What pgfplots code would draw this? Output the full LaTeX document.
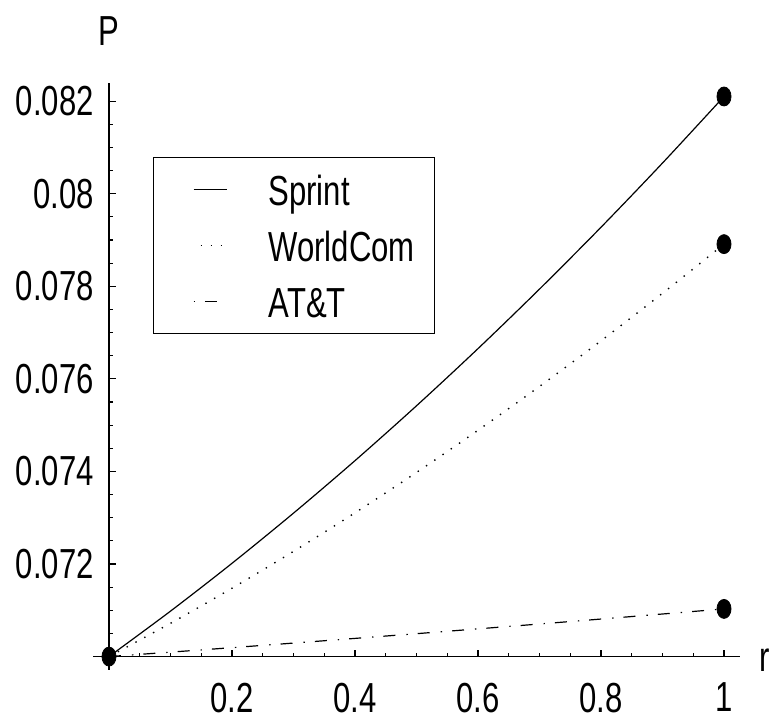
\documentclass[border=0pt]{standalone}
\usepackage{fontspec}
\setmainfont{Liberation Sans}[FakeStretch=0.74]
\usepackage{pgfplots}
\pgfplotsset{compat=1.18}
\begin{document}
\fontsize{21}{25}\selectfont
\begin{tikzpicture}[font=\fontsize{21}{25}\selectfont]
\path[use as bounding box] (0,0) rectangle (386.5pt,363pt);
\begin{axis}[
  at={(54.5pt,34.7pt)}, anchor=south west,
  scale only axis, width=315.5pt, height=287pt,
  xmin=0, xmax=1.026, ymin=0.07, ymax=0.0824,
  axis lines*=left,
  axis line style={line width=0.7pt, black},
  x axis line style={shorten <=-8pt},
  y axis line style={shorten <=-6.5pt},
  clip=false,
  scaled x ticks=false, scaled y ticks=false,
  tick align=inside,
  major tick length=3.5pt, minor tick length=2pt,
  every tick/.style={line width=0.6pt, black},
  /pgf/number format/assume math mode=true,
  xtick={0.2,0.4,0.6,0.8,1},
  xticklabels={0.2,0.4,0.6,0.8,1},
  minor xtick={0.05,0.1,0.15,0.25,0.3,0.35,0.45,0.5,0.55,0.65,0.7,0.75,0.85,0.9,0.95},
  ytick={0.072,0.074,0.076,0.078,0.08,0.082},
  yticklabels={0.072,0.074,0.076,0.078,0.08,0.082},
  minor ytick={0.0705,0.071,0.0715,0.0725,0.073,0.0735,0.0745,0.075,0.0755,0.0765,0.077,0.0775,0.0785,0.079,0.0795,0.0805,0.081,0.0815},
  xticklabel style={anchor=north, inner sep=0pt, yshift=-13pt},
  yticklabel style={anchor=east, inner sep=0pt, xshift=-7.5pt},
  legend cell align=left,
  legend image code/.code={\path[draw=none] (-20pt,0pt) -- (37.5pt,0pt); \draw[#1, dash phase=11.5pt] (0pt,0pt) -- (16.5pt,0pt);},
  legend style={at={(axis description cs:0.0697,0.8702)}, anchor=north west,
    draw=black, line width=0.6pt, fill=white, inner xsep=0pt, inner ysep=2pt,
    row sep=0pt, font=\fontsize{21}{25}\selectfont,
    nodes={inner sep=0pt, text height=22pt, text depth=6pt}},
]
\addplot[black, line width=0.6pt, smooth] coordinates {
(0,0.07) (0.1,0.070982) (0.2,0.072015) (0.3,0.073099) (0.4,0.074233) (0.5,0.075418)
(0.6,0.076653) (0.7,0.077939) (0.8,0.079275) (0.9,0.080662) (1,0.0821)};
\addlegendentry{\makebox[83pt][l]{Sprint}}
\addplot[black, line width=0.7pt, dash pattern=on 0.7pt off 4.3pt, smooth] coordinates {
(0,0.07) (0.1,0.070719) (0.2,0.071477) (0.3,0.072273) (0.4,0.073106) (0.5,0.073978)
(0.6,0.074889) (0.7,0.075836) (0.8,0.076822) (0.9,0.077848) (1,0.07891)};
\addlegendentry{\makebox[83pt][l]{WorldCom}}
\addplot[black, line width=0.6pt, dash pattern=on 6pt off 5.5pt on 0.7pt off 5pt, smooth] coordinates {
(0,0.07) (0.1,0.070096) (0.2,0.070193) (0.3,0.070292) (0.4,0.070393) (0.5,0.070495)
(0.6,0.070599) (0.7,0.070704) (0.8,0.070811) (0.9,0.07092) (1,0.07103)};
\addlegendentry{\makebox[83pt][l]{AT\&T}}
\addplot[only marks, mark=*, mark size=4.75pt, mark options={xscale=0.74, fill=black, draw=black}, forget plot] coordinates {
(0,0.07) (1,0.0821) (1,0.07891) (1,0.07103)};
\node[anchor=base, yshift=18.75pt] at (rel axis cs:0,1) {P};
\node[anchor=base, xshift=12.5pt, yshift=-7.5pt] at (rel axis cs:1,0) {r};
\end{axis}
\end{tikzpicture}
\end{document}
